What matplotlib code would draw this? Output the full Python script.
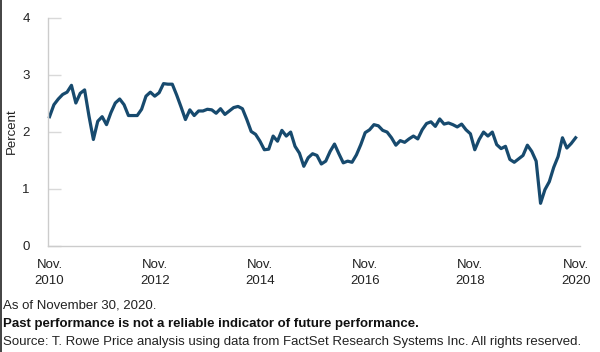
import matplotlib
matplotlib.use("Agg")
import matplotlib.pyplot as plt
from matplotlib.lines import Line2D

plt.rcParams['font.family'] = ['Liberation Sans', 'DejaVu Sans']

tick_labels = ["Nov.\n2010", "Nov.\n2012", "Nov.\n2014", "Nov.\n2016", "Nov.\n2018", "Nov.\n2020"]
tick_months = [0, 24, 48, 72, 96, 120]
y_ticks = [0, 1, 2, 3, 4]

# Monthly values, Nov 2010 .. Nov 2020 (percent)
values = [
    2.26, 2.47, 2.57, 2.65, 2.69, 2.81, 2.50, 2.67, 2.73, 2.27,
    1.86, 2.18, 2.26, 2.12, 2.33, 2.50, 2.57, 2.47, 2.28, 2.28,
    2.28, 2.39, 2.62, 2.69, 2.62, 2.68, 2.84, 2.83, 2.83, 2.64,
    2.43, 2.21, 2.38, 2.28, 2.36, 2.36, 2.39, 2.38, 2.32, 2.40,
    2.30, 2.36, 2.42, 2.44, 2.40, 2.21, 2.00, 1.95, 1.83, 1.68,
    1.69, 1.92, 1.83, 2.02, 1.92, 1.99, 1.74, 1.62, 1.39, 1.54,
    1.61, 1.58, 1.43, 1.48, 1.65, 1.78, 1.61, 1.45, 1.48, 1.46,
    1.59, 1.77, 1.98, 2.03, 2.12, 2.10, 2.02, 1.99, 1.89, 1.76,
    1.84, 1.81, 1.87, 1.92, 1.87, 2.03, 2.14, 2.17, 2.09, 2.22,
    2.13, 2.15, 2.12, 2.08, 2.13, 2.03, 1.96, 1.68, 1.86, 1.99,
    1.92, 1.99, 1.77, 1.70, 1.74, 1.51, 1.46, 1.52, 1.58, 1.76,
    1.65, 1.48, 0.74, 0.98, 1.12, 1.37, 1.56, 1.89, 1.71, 1.79,
    1.89,
]
months = list(range(len(values)))

fig = plt.figure(figsize=(6.0, 3.52), dpi=100)
W, H = 600, 352
left, right, top, bottom = 48, 580, 17.5, 245.5
ax = fig.add_axes([left / W, 1 - bottom / H, (right - left) / W, (bottom - top) / H])

ax.plot(months, values, color="#174a6e", lw=2.3, solid_joinstyle="round", clip_on=False)

ax.set_xlim(-0.35, 121)
ax.set_ylim(0, 4)
ax.set_yticks(y_ticks)
ax.set_xticks(tick_months)
ax.set_xticklabels(tick_labels, fontsize=9.5, color="#222222", linespacing=1.45)
ax.tick_params(axis='x', length=0, pad=9.5)
ax.tick_params(axis='y', direction='in', length=9, width=1, color="#d9d9d9",
               labelsize=9.5, labelcolor="#222222", pad=13)
for s in ['top', 'right']:
    ax.spines[s].set_visible(False)
for s in ['left', 'bottom']:
    ax.spines[s].set_color("#cccccc")
    ax.spines[s].set_linewidth(1.0)
ax.set_ylabel("Percent", fontsize=9.5, color="#222222", labelpad=3)

fs = 9.5
fig.text(3 / W, 1 - 306 / H, "As of November 30, 2020.", fontsize=fs, color="#222222", va="center")
fig.text(3 / W, 1 - 324 / H, "Past performance is not a reliable indicator of future performance.",
         fontsize=fs, color="#111111", fontweight="bold", va="center")
fig.text(3 / W, 1 - 342 / H,
         "Source: T. Rowe Price analysis using data from FactSet Research Systems Inc. All rights reserved.",
         fontsize=fs, color="#222222", va="center")

fig.add_artist(Line2D([0.6 / W, 0.6 / W], [0, 1], transform=fig.transFigure, color="#222222", lw=1.2))

fig.savefig("out.png", dpi=100)
